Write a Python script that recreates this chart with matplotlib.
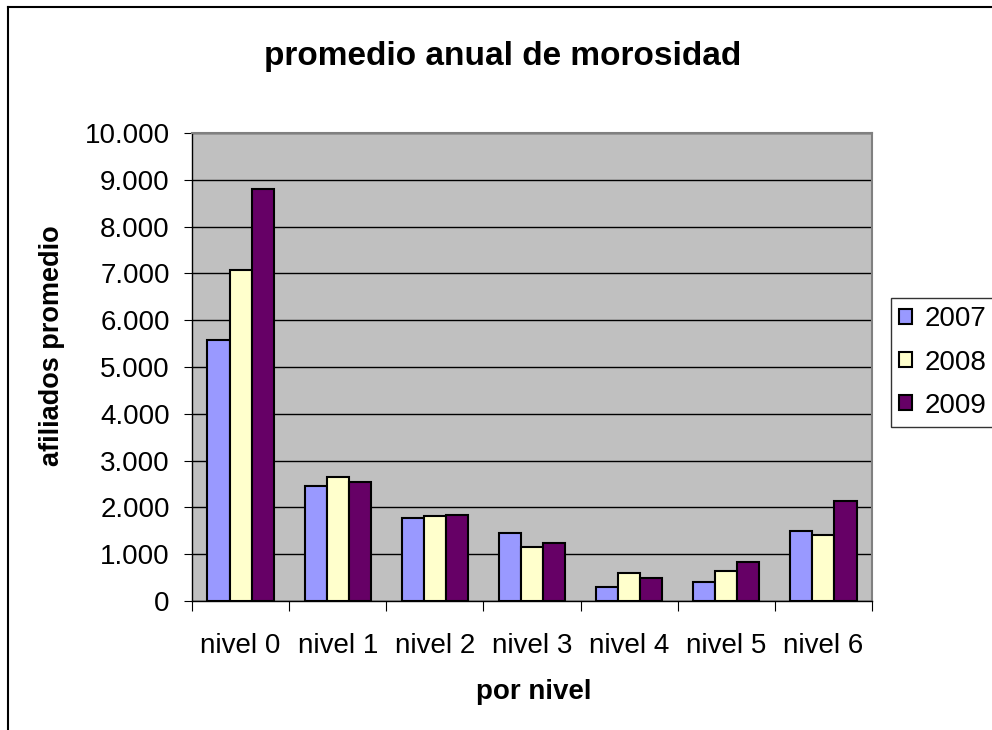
import numpy as np
from matplotlib import pyplot as plt
from matplotlib.lines import Line2D
from matplotlib.ticker import FuncFormatter, MultipleLocator

categories = ["nivel 0", "nivel 1", "nivel 2", "nivel 3", "nivel 4", "nivel 5", "nivel 6"]
years = ["2007", "2008", "2009"]
v2007 = [5580, 2467, 1763, 1458, 299, 413, 1493]
v2008 = [7073, 2659, 1806, 1160, 605, 640, 1407]
v2009 = [8800, 2552, 1842, 1237, 484, 832, 2132]
colors = ["#9999FF", "#FFFFCC", "#660066"]

plt.rcParams["font.family"] = ["Liberation Sans", "DejaVu Sans"]


def main():
    fig = plt.figure(figsize=(9.92, 7.3), dpi=100)
    ax = fig.add_axes([192 / 992, 1 - 601 / 730, 680 / 992, 468 / 730])

    x = np.arange(len(categories))
    w = 0.227
    for i, (vals, col) in enumerate(zip([v2007, v2008, v2009], colors)):
        ax.bar(x + (i - 1) * w, vals, w, color=col, edgecolor="black",
               linewidth=1.5, label=years[i], zorder=3)

    ax.set_facecolor("#C0C0C0")
    ax.set_xlim(-0.5, len(categories) - 0.5)
    ax.set_ylim(0, 10000)
    ax.yaxis.set_major_locator(MultipleLocator(1000))
    ax.yaxis.set_major_formatter(FuncFormatter(lambda v, p: f"{int(v):,}".replace(",", ".")))
    ax.grid(axis="y", color="black", linewidth=1, zorder=1)

    ax.set_xticks(np.arange(len(categories) + 1) - 0.5)
    ax.set_xticklabels([])
    ax.set_xticks(x, minor=True)
    ax.set_xticklabels(categories, minor=True, fontsize=20)
    ax.tick_params(axis="x", which="major", length=7, direction="out", color="black")
    ax.tick_params(axis="x", which="minor", length=0, pad=23)
    ax.tick_params(axis="y", length=6, labelsize=20, pad=10)

    for s in ["top", "right"]:
        ax.spines[s].set_color("#808080")
        ax.spines[s].set_linewidth(1.5)
    for s in ["left", "bottom"]:
        ax.spines[s].set_color("black")
        ax.spines[s].set_linewidth(1)

    ax.set_xlabel("por nivel", fontsize=20, fontweight="bold")
    ax.xaxis.set_label_coords(534 / 992, 1 - 692 / 730, transform=fig.transFigure)
    ax.xaxis.label.set_va("center")
    ax.set_ylabel("afiliados promedio", fontsize=19.5, fontweight="bold")
    ax.yaxis.set_label_coords(52 / 992, 1 - 346 / 730, transform=fig.transFigure)
    ax.yaxis.label.set_va("center")
    fig.text(503 / 992, 1 - 57 / 730, "promedio anual de morosidad", ha="center",
             va="center", fontsize=24, fontweight="bold")

    leg = ax.legend(loc="upper left", bbox_to_anchor=(891 / 992, 1 - 298 / 730),
                    bbox_transform=fig.transFigure, fontsize=20, frameon=True,
                    fancybox=False, edgecolor="black", handlelength=0.45,
                    handleheight=0.45, handletextpad=0.45, borderpad=0.3,
                    labelspacing=0.62, borderaxespad=0)
    leg.get_frame().set_linewidth(1)

    fig.add_artist(Line2D([8 / 992, 8 / 992], [0, 1 - 7 / 730], color="black", linewidth=1.5))
    fig.add_artist(Line2D([8 / 992, 1], [1 - 7 / 730, 1 - 7 / 730], color="black", linewidth=1.5))

    plt.savefig("out.png", dpi=100)
    plt.close(fig)


if __name__ == "__main__":
    main()
